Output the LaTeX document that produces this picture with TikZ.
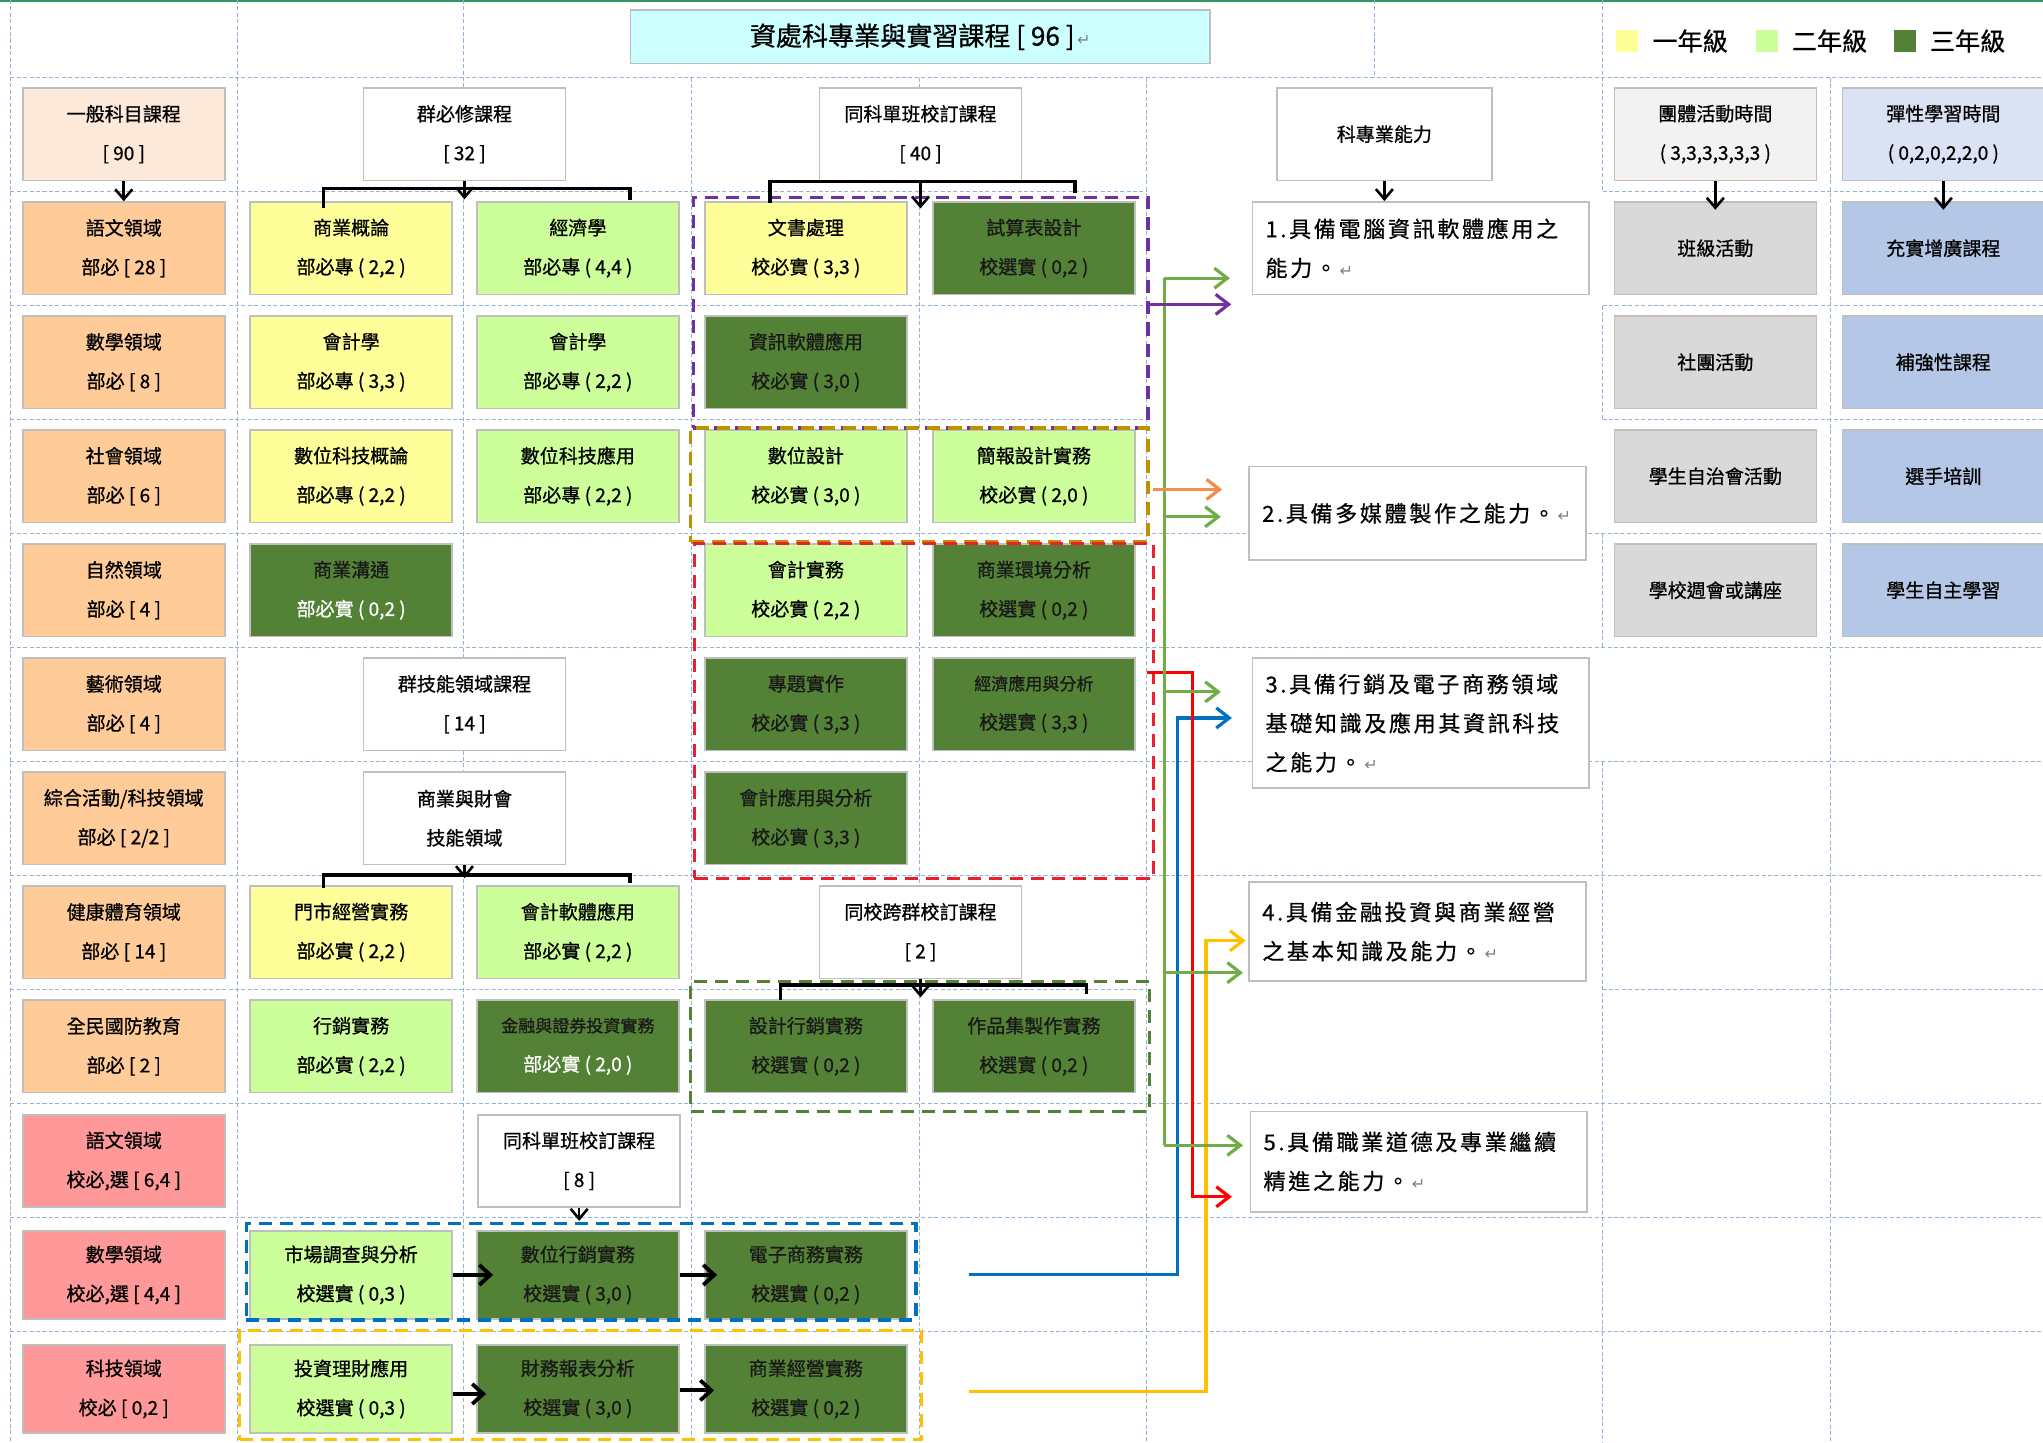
\documentclass[tikz,border=0pt]{standalone}
\usepackage{fontspec}
\setmainfont{Noto Sans CJK TC}[FakeBold=0.8]
\newfontfamily\abfont{Noto Sans CJK TC}[LetterSpace=12,FakeBold=0.6]
\newfontfamily\symfnt{DejaVu Sans}
\usetikzlibrary{arrows.meta,fit,calc}

\definecolor{gridc}{RGB}{149,179,215}
\definecolor{boxline}{RGB}{191,191,191}
\definecolor{cPeach}{RGB}{255,204,153}
\definecolor{cPeachL}{RGB}{253,233,217}
\definecolor{cPink}{RGB}{255,153,153}
\definecolor{cYel}{RGB}{255,255,153}
\definecolor{cLG}{RGB}{204,255,153}
\definecolor{cDG}{RGB}{83,129,53}
\definecolor{cGray}{RGB}{217,217,217}
\definecolor{cGrayL}{RGB}{242,242,242}
\definecolor{cBlue}{RGB}{180,199,231}
\definecolor{cBlueL}{RGB}{218,227,243}
\definecolor{cTitle}{RGB}{204,255,255}
\definecolor{lnPurple}{RGB}{112,48,160}
\definecolor{lnGold}{RGB}{191,144,0}
\definecolor{lnRed}{RGB}{255,0,0}
\definecolor{lnRedD}{RGB}{232,32,48}
\definecolor{lnOlive}{RGB}{84,130,53}
\definecolor{lnBlue}{RGB}{0,112,192}
\definecolor{lnAmber}{RGB}{255,192,0}
\definecolor{lnGreen}{RGB}{112,173,71}
\definecolor{lnOrange}{RGB}{244,140,80}
\definecolor{topline}{RGB}{50,150,100}

\newcommand{\ret}{{\symfnt\color{gray}\fontsize{8}{8}\selectfont\,↵}}

\begin{document}
\begin{tikzpicture}[x=0.65pt,y=-0.65pt,
  grid/.style={draw=gridc, line width=0.6pt, dash pattern=on 2pt off 1.2pt},
  cbox/.style={draw=boxline, line width=0.8pt, minimum width=100.75pt, minimum height=46pt, inner sep=1pt, align=center, font=\fontsize{9.5}{19.5}\selectfont},
  peach/.style={cbox, fill=cPeach},
  pink/.style={cbox, fill=cPink},
  yel/.style={cbox, fill=cYel},
  lg/.style={cbox, fill=cLG},
  dg/.style={cbox, fill=cDG, text=black!90},
  hdr/.style={cbox, fill=white},
  gry/.style={cbox, fill=cGray},
  blu/.style={cbox, fill=cBlue},
  low/.style={minimum height=44pt},
  abox/.style={draw=boxline, line width=0.8pt, fill=white, align=left, text width=155pt, inner xsep=6.5pt, inner ysep=2pt, font=\abfont\fontsize{11}{19.5}\selectfont},
  grpbox/.style={line width=1.6pt, dash pattern=on 6.5pt off 4pt, inner sep=0pt},
  barrow/.style={line width=1.3pt, -{Straight Barb[length=5pt,width=8.5pt]}},
  brk/.style={line width=1.6pt},
  harrow/.style={line width=1.9pt, -{Straight Barb[length=5.5pt,width=10pt]}},
  carrow/.style={line width=1.6pt, -{Straight Barb[length=6.5pt,width=10pt]}},
  cline/.style={line width=1.6pt}
]
\useasboundingbox (0,0) rectangle (1568,1107);
\clip (0,0) rectangle (1568,1107);

% ---------- table grid ----------
\draw[topline, line width=1.2pt] (0,0.8) -- (1568,0.8);
\foreach \y in {59.5,409.5,497,584.5,672,847,934.5,1022}
  \draw[grid] (8,\y) -- (1568,\y);
\foreach \y in {147,234.5,322,759.5}
  {\draw[grid] (8,\y) -- (880,\y); \draw[grid] (1230,\y) -- (1568,\y);}
\foreach \x in {8,182,356} \draw[grid] (\x,0) -- (\x,1107);
\foreach \x in {531,706,880,1405} \draw[grid] (\x,59.5) -- (\x,1107);
\draw[grid] (1055,0) -- (1055,59.5);
\draw[grid] (1230,0) -- (1230,147);
\draw[grid] (1230,234.5) -- (1230,322);
\draw[grid] (1230,409.5) -- (1230,497);
\draw[grid] (1230,584.5) -- (1230,1107);

% ---------- title and legend ----------
\node[draw=boxline, line width=0.8pt, fill=cTitle, minimum width=289pt, minimum height=26.6pt, font=\fontsize{13}{13}\selectfont] (title) at (706.3,28.2) {資處科專業與實習課程 [ 96 ]\ret};
\node[fill=cYel, minimum width=11pt, minimum height=11pt, inner sep=0pt] (lg1) at (1248.5,31.5) {};
\node[anchor=west, inner sep=0pt, font=\fontsize{12.5}{12.5}\selectfont] (lt1) at (1268,31.5) {一年級};
\node[fill=cLG, minimum width=11pt, minimum height=11pt, inner sep=0pt] (lg2) at (1356,31.5) {};
\node[anchor=west, inner sep=0pt, font=\fontsize{12.5}{12.5}\selectfont] (lt2) at (1375,31.5) {二年級};
\node[fill=cDG, minimum width=11pt, minimum height=11pt, inner sep=0pt] (lg3) at (1462,31.5) {};
\node[anchor=west, inner sep=0pt, font=\fontsize{12.5}{12.5}\selectfont] (lt3) at (1481,31.5) {三年級};

% ---------- column A ----------
\node[cbox, fill=cPeachL] (a1) at (95,103) {一般科目課程\\{}[ 90 ]};
\node[peach] (a2) at (95,190.5) {語文領域\\部必 [ 28 ]};
\node[peach] (a3) at (95,278) {數學領域\\部必 [ 8 ]};
\node[peach] (a4) at (95,365.5) {社會領域\\部必 [ 6 ]};
\node[peach] (a5) at (95,453) {自然領域\\部必 [ 4 ]};
\node[peach] (a6) at (95,540.5) {藝術領域\\部必 [ 4 ]};
\node[peach] (a7) at (95,628) {綜合活動/科技領域\\部必 [ 2/2 ]};
\node[peach] (a8) at (95,715.5) {健康體育領域\\部必 [ 14 ]};
\node[peach] (a9) at (95,803) {全民國防教育\\部必 [ 2 ]};
\node[pink] (a10) at (95,891) {語文領域\\校必,選 [ 6,4 ]};
\node[pink,low] (a11) at (95,978.5) {數學領域\\校必,選 [ 4,4 ]};
\node[pink,low] (a12) at (95,1066) {科技領域\\校必 [ 0,2 ]};

% ---------- column B ----------
\node[yel] (b2) at (269.5,190.5) {商業概論\\部必專 ( 2,2 )};
\node[yel] (b3) at (269.5,278) {會計學\\部必專 ( 3,3 )};
\node[yel] (b4) at (269.5,365.5) {數位科技概論\\部必專 ( 2,2 )};
\node[dg] (b5) at (269.5,453) {商業溝通\\{\color{white}部必實 ( 0,2 )}};
\node[yel] (b8) at (269.5,715.5) {門市經營實務\\部必實 ( 2,2 )};
\node[lg] (b9) at (269.5,803) {行銷實務\\部必實 ( 2,2 )};
\node[lg,low] (b11) at (269.5,978.5) {市場調查與分析\\校選實 ( 0,3 )};
\node[lg,low] (b12) at (269.5,1066) {投資理財應用\\校選實 ( 0,3 )};

% ---------- column C ----------
\node[lg] (c2) at (443.5,190.5) {經濟學\\部必專 ( 4,4 )};
\node[lg] (c3) at (443.5,278) {會計學\\部必專 ( 2,2 )};
\node[lg] (c4) at (443.5,365.5) {數位科技應用\\部必專 ( 2,2 )};
\node[lg] (c8) at (443.5,715.5) {會計軟體應用\\部必實 ( 2,2 )};
\node[dg] (c9) at (443.5,803) {{\fontsize{8.5}{19.5}\selectfont 金融與證券投資實務}\\{\color{white}部必實 ( 2,0 )}};
\node[dg,low] (c11) at (443.5,978.5) {數位行銷實務\\校選實 ( 3,0 )};
\node[dg,low] (c12) at (443.5,1066) {財務報表分析\\校選實 ( 3,0 )};

% ---------- column D ----------
\node[yel] (d2) at (618.5,190.5) {文書處理\\校必實 ( 3,3 )};
\node[dg] (d3) at (618.5,278) {資訊軟體應用\\校必實 ( 3,0 )};
\node[lg] (d4) at (618.5,365.5) {數位設計\\校必實 ( 3,0 )};
\node[lg] (d5) at (618.5,453) {會計實務\\校必實 ( 2,2 )};
\node[dg] (d6) at (618.5,540.5) {專題實作\\校必實 ( 3,3 )};
\node[dg] (d7) at (618.5,628) {會計應用與分析\\校必實 ( 3,3 )};
\node[dg] (d9) at (618.5,803) {設計行銷實務\\校選實 ( 0,2 )};
\node[dg,low] (d11) at (618.5,978.5) {電子商務實務\\校選實 ( 0,2 )};
\node[dg,low] (d12) at (618.5,1066) {商業經營實務\\校選實 ( 0,2 )};

% ---------- column E ----------
\node[dg] (e2) at (793.5,190.5) {試算表設計\\校選實 ( 0,2 )};
\node[lg] (e4) at (793.5,365.5) {簡報設計實務\\校必實 ( 2,0 )};
\node[dg] (e5) at (793.5,453) {商業環境分析\\校選實 ( 0,2 )};
\node[dg] (e6) at (793.5,540.5) {{\fontsize{8.5}{19.5}\selectfont 經濟應用與分析}\\校選實 ( 3,3 )};
\node[dg] (e9) at (793.5,803) {作品集製作實務\\校選實 ( 0,2 )};

% ---------- white header boxes ----------
\node[hdr] (h32) at (356.5,103) {群必修課程\\{}[ 32 ]};
\node[hdr] (h40) at (706.5,103) {同科單班校訂課程\\{}[ 40 ]};
\node[hdr] (h14) at (356.5,540.5) {群技能領域課程\\{}[ 14 ]};
\node[hdr] (hbf) at (356.5,628) {商業與財會\\技能領域};
\node[hdr] (h2) at (706.5,715.5) {同校跨群校訂課程\\{}[ 2 ]};
\node[hdr] (h8) at (444.5,891) {同科單班校訂課程\\{}[ 8 ]};
\node[hdr, minimum width=107.25pt] (habil) at (1062.5,103) {科專業能力};

% ---------- right columns ----------
\node[cbox, fill=cGrayL] (f1) at (1316.5,103) {團體活動時間\\( 3,3,3,3,3,3 )};
\node[cbox, fill=cBlueL] (g1) at (1491.5,103) {彈性學習時間\\( 0,2,0,2,2,0 )};
\node[gry] (f2) at (1316.5,190.5) {班級活動};
\node[gry] (f3) at (1316.5,278) {社團活動};
\node[gry] (f4) at (1316.5,365.5) {學生自治會活動};
\node[gry] (f5) at (1316.5,453) {學校週會或講座};
\node[blu] (g2) at (1491.5,190.5) {充實增廣課程};
\node[blu] (g3) at (1491.5,278) {補強性課程};
\node[blu] (g4) at (1491.5,365.5) {選手培訓};
\node[blu] (g5) at (1491.5,453) {學生自主學習};

% ---------- abilities ----------
\node[abox, minimum height=46.2pt] (ab1) at (1090.5,190.5) {1.具備電腦資訊軟體應用之\\能力。\ret};
\node[abox, minimum height=46.8pt] (ab2) at (1088,394) {2.具備多媒體製作之能力。\ret};
\node[abox, minimum height=65pt] (ab3) at (1090.5,555) {3.具備行銷及電子商務領域\\基礎知識及應用其資訊科技\\之能力。\ret};
\node[abox, minimum height=49.4pt] (ab4) at (1088,715) {4.具備金融投資與商業經營\\之基本知識及能力。\ret};
\node[abox, minimum height=50pt] (ab5) at (1089,891.5) {5.具備職業道德及專業繼續\\精進之能力。\ret};

% ---------- dashed groups ----------
\node[grpbox, draw=lnPurple, fit={(532,151.5) (881,328.5)}] (gP) {};
\node[grpbox, draw=lnGold, fit={(530,328.5) (881,416)}] (gG) {};
\node[grpbox, draw=lnRedD, fit={(533,417) (885,674)}] (gR) {};
\node[grpbox, draw=lnOlive, fit={(530,753) (882,853)}] (gO) {};
\node[grpbox, draw=lnBlue, fit={(189,939) (703,1013)}] (gB) {};
\node[grpbox, draw=lnAmber, fit={(184,1021) (707.5,1105)}] (gA) {};

% ---------- black connectors ----------
\draw[barrow] (a1.south) -- (a2.north);
\draw[brk] (248,160) -- (248,144.5) -- (483.5,144.5) -- (483.5,153.5);
\draw[barrow] (h32.south) -- ++(0,14);
\draw[brk] (591,155.5) -- (591,139.5) -- (825,139.5) -- (825,148);
\draw[barrow] (h40.south) -- ++(0,21);
\draw[barrow] (habil.south) -- (habil.south |- ab1.north);
\draw[barrow] (f1.south) -- ++(0,22);
\draw[barrow] (g1.south) -- ++(0,22);
\draw[brk] (248,681.5) -- (248,671.6) -- (483.5,671.6) -- (483.5,677.6);
\draw[barrow] (hbf.south) -- ++(0,10);
\draw[brk] (599,767.5) -- (599,756) -- (834,756) -- (834,763);
\draw[barrow] (h2.south) -- ++(0,14);
\draw[barrow] (h8.south) -- ++(0,10);
\draw[harrow] (b11.east) -- ([xshift=8.5pt]c11.west);
\draw[harrow] (c11.east) -- ([xshift=6.5pt]d11.west);
\draw[harrow] ([yshift=-2.5pt]b12.east) -- ([xshift=5pt,yshift=-2.5pt]c12.west);
\draw[harrow] ([yshift=-0.7pt]c12.east) -- ([xshift=5pt,yshift=-0.7pt]d12.west);

% ---------- coloured connectors ----------
\draw[carrow, lnAmber] (744,1068) -- (925.6,1068) -- (925.6,722) -- (956,722);
\draw[carrow, lnBlue] (744,978) -- (903.5,978) -- (903.5,551) -- (945.5,551);
\draw[carrow, lnRed] (880,516.4) -- (915,516.4) -- (915,918.5) -- (945.5,918.5);
\draw[cline, lnGreen] (893.5,213.5) -- (893.5,879);
\foreach \yy/\xe in {213.5/944, 396.6/937, 531/937, 746.5/954, 879/954}
  \draw[carrow, lnGreen] (893.5,\yy) -- (\xe,\yy);
\draw[carrow, lnPurple] (881,233.6) -- (945,233.6);
\draw[carrow, lnOrange] (885,375.6) -- (938,375.6);
\end{tikzpicture}
\end{document}
